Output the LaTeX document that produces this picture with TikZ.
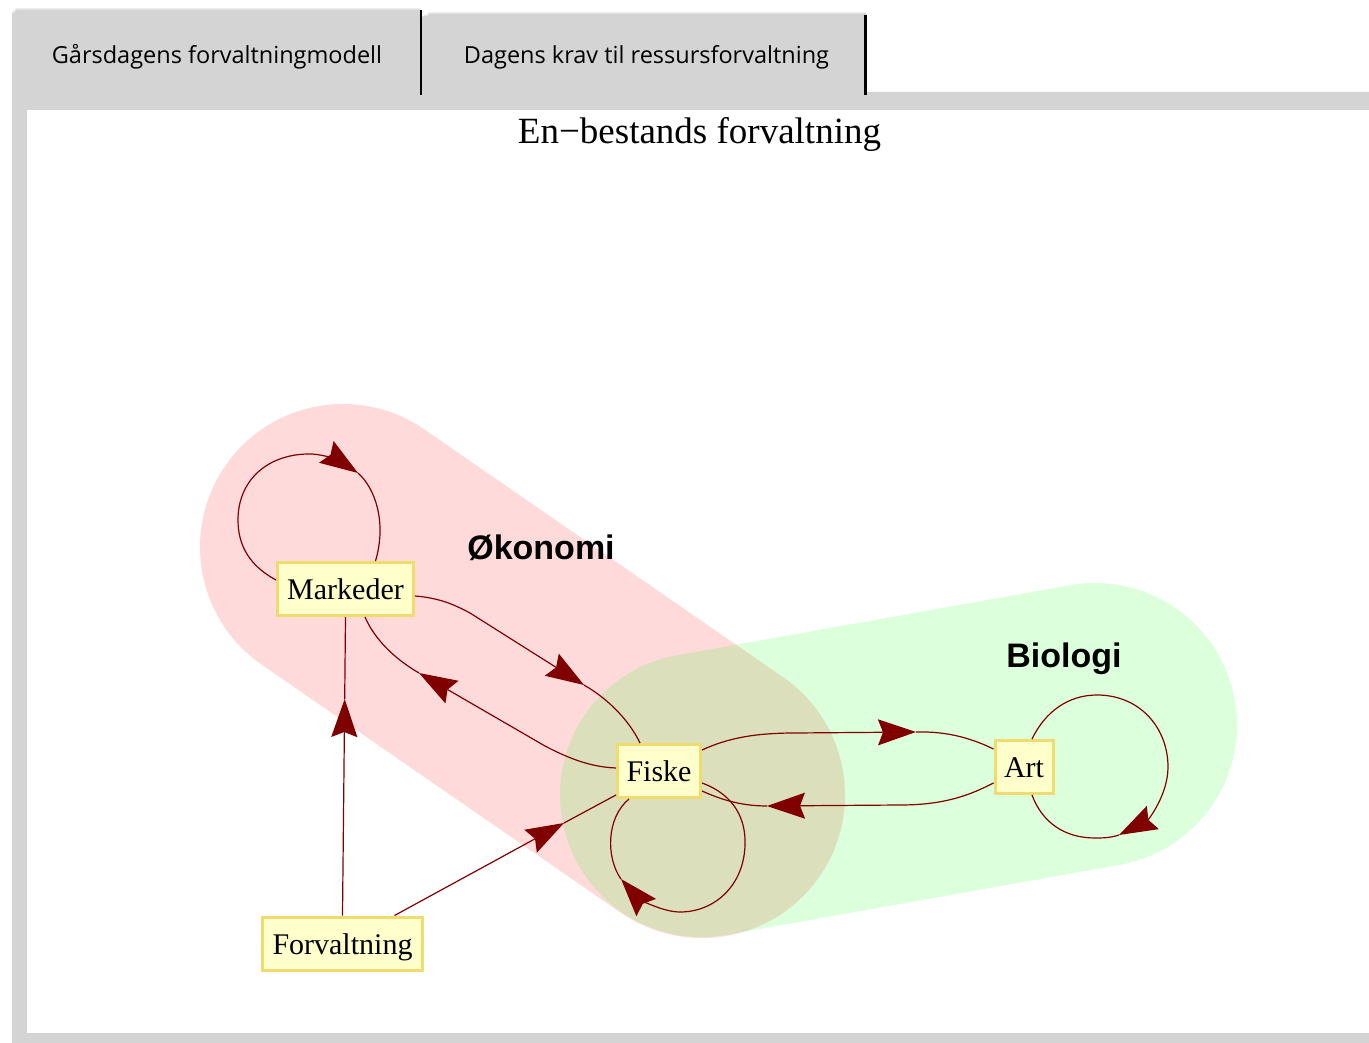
\documentclass[tikz,border=0pt]{standalone}
\usepackage{fontspec}
\setmainfont{Liberation Serif}
\newfontfamily\tabfont{Open Sans}
\newfontfamily\lblfont{Liberation Sans}
\usetikzlibrary{arrows.meta}
\definecolor{framegray}{HTML}{D4D4D4}
\definecolor{framelight}{HTML}{ECECEC}
\definecolor{edgecol}{HTML}{800000}
\definecolor{boxfill}{HTML}{FFFFCC}
\definecolor{boxline}{HTML}{F0DC6E}
\begin{document}
\begin{tikzpicture}[x=1pt,y=-1pt,
 box/.style={draw=boxline, fill=boxfill, line width=3pt, inner sep=0pt, minimum height=53pt, text height=21pt, text depth=0pt, font=\fontsize{30}{36}\selectfont},
 edge/.style={draw=edgecol, line width=1.2pt},
 arr/.style={edge, -{Stealth[length=38pt,width=26pt,inset=5pt]}},
 lbl/.style={font=\lblfont\bfseries\fontsize{34}{40}\selectfont, anchor=base, inner sep=0pt},
 tabtxt/.style={font=\tabfont\fontsize{23.5}{28}\selectfont, anchor=base, inner sep=0pt},
 hull/.style={line cap=round, opacity=0.145}
]
\useasboundingbox (0,0) rectangle (1369,1043);
% frame
\fill[white] (0,0) rectangle (1369,1043);
\fill[framegray] (12,1043) -- (12,13) -- (16,9) -- (420,9) -- (420,92) -- (1369,92) -- (1369,1043) -- cycle;
\fill[framegray] (422,95) -- (422,17) -- (429,13) -- (866,13) -- (866,95) -- cycle;
\draw[framelight, line width=1.5pt] (13,13) -- (16,9) -- (420,9);
\draw[framelight, line width=1.5pt] (426,16) -- (429,13) -- (864,13);
\fill[white] (27,110) rectangle (1369,1033);
\draw[line width=2.5pt] (421,10) -- (421,95);
\draw[line width=3pt] (865.5,15) -- (865.5,95);
% tab texts and title
\node[tabtxt] (tab1) at (217,64) {Gårsdagens forvaltningmodell};
\node[tabtxt] (tab2) at (646.5,64) {Dagens krav til ressursforvaltning};
\node[font=\fontsize{37}{44}\selectfont, anchor=base, inner sep=0pt] (title) at (699.5,144) {En−bestands forvaltning};
% hulls
\draw[hull, red, line width=286pt] (343,547) -- (702,795);
\draw[hull, green, opacity=0.137, line width=284pt] (702,795) -- (1095,725);
% labels
\node[lbl] (okonomi) at (541,559) {Økonomi};
\node[lbl] (biologi) at (1064,667) {Biologi};
% nodes
\node[box, minimum width=136pt] (markeder) at (345.5,589) {Markeder};
\node[box, minimum width=83pt] (fiske) at (659,771) {Fiske};
\node[box, minimum width=58pt] (art) at (1024,767) {Art};
\node[box, minimum width=160pt] (forv) at (342.5,943.5) {Forvaltning};
% arrow tip points
\coordinate (tMF) at (584,685);
\coordinate (tFM) at (419,673);
\coordinate (tVM) at (344.7,699);
\coordinate (tVF) at (564,823);
\coordinate (tFA) at (916,732);
\coordinate (tAF) at (767,806);
\coordinate (tML) at (358,473);
\coordinate (tFL) at (621,879);
\coordinate (tAL) at (1119,835);
% Markeder -> Fiske
\draw[arr] ([yshift=-7pt]markeder.east) .. controls (440,598) and (455,605) .. (470,613) -- (tMF);
\draw[edge] (tMF) .. controls (610,700) and (630,722) .. ([xshift=-19pt]fiske.north);
% Fiske -> Markeder
\draw[arr] ([yshift=3pt]fiske.west) .. controls (590,767) and (568,758) .. (545,746) -- (tFM);
\draw[edge] (tFM) .. controls (395,659) and (375,640) .. ([xshift=19.5pt]markeder.south);
% Forvaltning -> Markeder
\draw[arr] (forv.north) -- (tVM);
\draw[edge] (tVM) -- (markeder.south);
% Forvaltning -> Fiske
\draw[arr] ([xshift=52pt]forv.north) -- (tVF);
\draw[edge] (tVF) -- ([yshift=-24pt]fiske.west);
% Fiske -> Art
\draw[arr] ([yshift=21pt]fiske.east) .. controls (728,738) and (755,733) .. (795,733) -- (tFA);
\draw[edge] (tFA) .. controls (950,731) and (975,740) .. ([yshift=18pt]art.west);
% Art -> Fiske
\draw[arr] ([yshift=-16pt]art.west) .. controls (970,795) and (945,805) .. (900,805) -- (tAF);
\draw[edge] (tAF) .. controls (740,806) and (720,799) .. ([yshift=-20pt]fiske.east);
% Markeder loop
\draw[arr] ([yshift=9pt]markeder.west) .. controls (250,566) and (238,546) .. (238,520) .. controls (238,480) and (268,453) .. (312,454) .. controls (326,455) and (340,461) .. (tML);
\draw[edge] (tML) .. controls (375,488) and (387,522) .. ([xshift=30pt]markeder.north);
% Fiske loop
\draw[arr] ([yshift=-12pt]fiske.east) .. controls (735,795) and (746,820) .. (745,845) .. controls (744,885) and (715,912) .. (680,912) .. controls (660,912) and (636,896) .. (tFL);
\draw[edge] (tFL) .. controls (606,858) and (606,818) .. ([xshift=-30pt]fiske.south);
% Art loop
\draw[arr] ([xshift=8pt]art.north) .. controls (1045,712) and (1068,695) .. (1097,695) .. controls (1140,695) and (1168,728) .. (1168,767) .. controls (1168,795) and (1148,820) .. (tAL);
\draw[edge] (tAL) .. controls (1110,838) and (1102,838) .. (1095,838) .. controls (1064,838) and (1042,822) .. ([xshift=8pt]art.south);
\end{tikzpicture}
\end{document}
